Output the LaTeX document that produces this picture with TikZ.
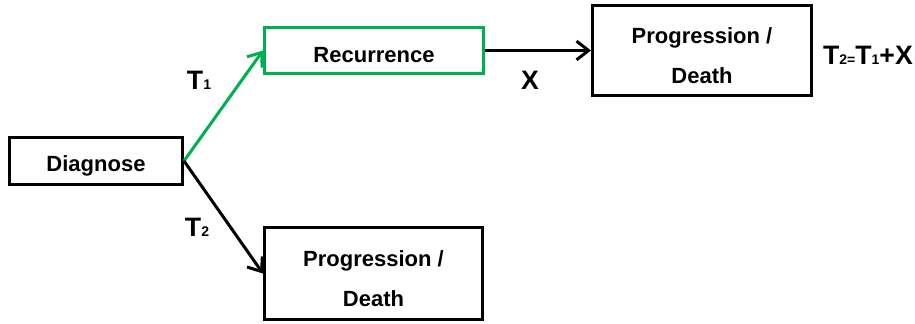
\documentclass[tikz,border=0pt]{standalone}
\usepackage{fontspec}
\setmainfont{Liberation Sans}
\usetikzlibrary{arrows.meta}
\definecolor{boxgreen}{RGB}{0,176,80}
\newcommand{\sbs}[1]{{\fontsize{10.5}{12}\selectfont #1}}
\begin{document}
\begin{tikzpicture}[x=0.75pt,y=-0.75pt,
  box/.style={draw, line width=2.25pt, inner sep=0pt},
  boxtext/.style={inner sep=0pt, align=center, yshift=-3.75pt,
    font=\fontsize{16.5}{30}\selectfont\bfseries},
  conn/.style={line width=2.25pt, -{Straight Barb[length=9pt,width=14pt]}},
  lbl/.style={inner sep=0pt, font=\fontsize{20}{24}\selectfont\bfseries}]
\useasboundingbox (0,0) rectangle (915,324);
\node[box, minimum width=129.75pt, minimum height=35.25pt] (diag) at (96,161) {};
\node[box, draw=boxgreen, minimum width=164.25pt, minimum height=34.5pt] (rec) at (374,50.5) {};
\node[box, minimum width=164.25pt, minimum height=67.5pt] (pd1) at (702,50.5) {};
\node[box, minimum width=163.5pt, minimum height=69pt] (pd2) at (373.5,273.5) {};
\node[boxtext] (diagt) at (diag.center) {Diagnose};
\node[boxtext] (rect) at (rec.center) {Recurrence};
\node[boxtext] (pd1t) at (pd1.center) {Progression /\\Death};
\node[boxtext] (pd2t) at (pd2.center) {Progression /\\Death};
\draw[conn, boxgreen] (diag.east) -- (rec.west);
\draw[conn] (diag.east) -- (pd2.west);
\draw[conn] (rec.east) -- (pd1.west);
\node[lbl] (t1) at (199,80) {T\sbs{1}};
\node[lbl] (t2) at (197,227) {T\sbs{2}};
\node[lbl] (x) at (530,80) {X};
\node[lbl] (eq) at (868,55) {T\sbs{2=}T\sbs{1}+X};
\end{tikzpicture}
\end{document}
